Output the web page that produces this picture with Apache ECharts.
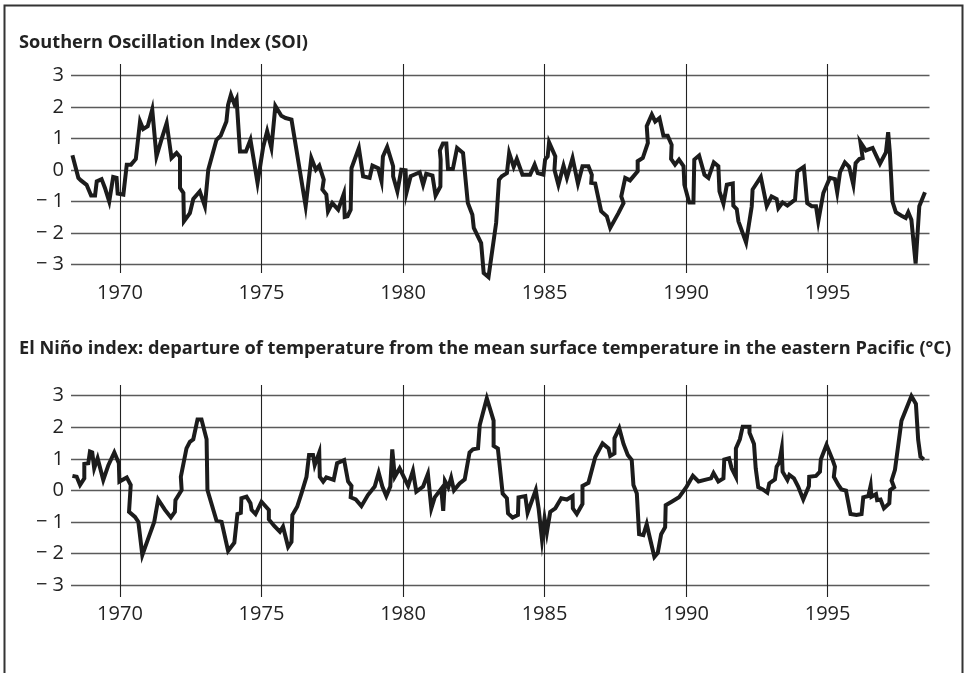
<!DOCTYPE html>
<html>
<head>
<meta charset="utf-8">
<script src="https://cdn.jsdelivr.net/npm/echarts@6/dist/echarts.min.js"></script>
<style>
  html, body { margin: 0; padding: 0; background: #fff; }
  #chart { width: 965px; height: 673px; }
</style>
</head>
<body>
<div id="chart"></div>
<script>
// [year, value]
var soi = [
  [1968.32, 0.47], [1968.53, -0.25], [1968.62, -0.33], [1968.82, -0.47], [1968.98, -0.81], [1969.12, -0.81],
  [1969.18, -0.36], [1969.35, -0.29], [1969.47, -0.57], [1969.62, -1.0], [1969.76, -0.22], [1969.88, -0.25],
  [1969.92, -0.75], [1970.12, -0.78], [1970.24, 0.17], [1970.39, 0.17], [1970.56, 0.35], [1970.71, 1.54],
  [1970.82, 1.30], [1970.98, 1.39], [1971.14, 1.92], [1971.29, 0.43], [1971.47, 0.98], [1971.65, 1.49],
  [1971.82, 0.38], [1972.0, 0.54], [1972.12, 0.41], [1972.12, -0.57], [1972.24, -0.73], [1972.26, -1.63],
  [1972.47, -1.37], [1972.59, -0.92], [1972.82, -0.68], [1973.0, -1.15], [1973.12, 0.01], [1973.41, 0.96],
  [1973.56, 1.09], [1973.76, 1.54], [1973.82, 2.07], [1973.92, 2.39], [1974.04, 2.10], [1974.12, 2.25],
  [1974.24, 0.59], [1974.45, 0.59], [1974.61, 0.96], [1974.86, -0.41], [1975.06, 0.73], [1975.2, 1.23],
  [1975.35, 0.70], [1975.49, 2.03], [1975.7, 1.72], [1975.85, 1.65], [1976.06, 1.60], [1976.56, -1.15],
  [1976.76, 0.38], [1976.92, 0.01], [1977.04, 0.14], [1977.2, -0.31], [1977.15, -0.62], [1977.29, -0.78],
  [1977.35, -1.31], [1977.5, -1.05], [1977.71, -1.26], [1977.91, -0.75], [1977.94, -1.49], [1978.04, -1.47],
  [1978.15, -1.26], [1978.18, 0.06], [1978.44, 0.70], [1978.59, -0.2], [1978.82, -0.25], [1978.92, 0.14],
  [1979.12, 0.06], [1979.24, -0.36], [1979.29, 0.43], [1979.44, 0.73], [1979.65, 0.12], [1979.65, -0.2],
  [1979.8, -0.68], [1979.94, 0.01], [1980.09, -0.01], [1980.12, -0.73], [1980.27, -0.2], [1980.47, -0.12],
  [1980.59, -0.07], [1980.71, -0.47], [1980.82, -0.12], [1981.04, -0.18], [1981.15, -0.81], [1981.32, -0.52],
  [1981.33, 0.33], [1981.3, 0.62], [1981.41, 0.84], [1981.53, 0.84], [1981.59, 0.03], [1981.76, 0.03],
  [1981.91, 0.70], [1982.12, 0.54], [1982.29, -1.05], [1982.45, -1.42], [1982.5, -1.84], [1982.76, -2.32],
  [1982.85, -3.27], [1983.02, -3.40], [1983.29, -1.68], [1983.39, -0.31], [1983.49, -0.2], [1983.67, -0.1],
  [1983.75, 0.54], [1983.91, 0.1], [1984.02, 0.35], [1984.22, -0.15], [1984.49, -0.15], [1984.65, 0.17],
  [1984.76, -0.1], [1984.96, -0.15], [1985.02, 0.33], [1985.11, 0.43], [1985.16, 0.88], [1985.38, 0.43],
  [1985.35, 0.01], [1985.49, -0.47], [1985.67, 0.14], [1985.79, -0.25], [1985.99, 0.38], [1986.18, -0.43],
  [1986.34, 0.12], [1986.55, 0.12], [1986.67, -0.15], [1986.65, -0.41], [1986.79, -0.43], [1987.0, -1.31],
  [1987.2, -1.47], [1987.32, -1.84], [1987.61, -1.37], [1987.79, -1.05], [1987.71, -0.84], [1987.85, -0.25],
  [1988.02, -0.33], [1988.29, -0.04], [1988.29, 0.28], [1988.47, 0.38], [1988.65, 0.86], [1988.61, 1.39],
  [1988.79, 1.76], [1988.91, 1.54], [1989.06, 1.65], [1989.2, 1.09], [1989.35, 1.09], [1989.49, 0.80],
  [1989.47, 0.35], [1989.61, 0.17], [1989.75, 0.33], [1989.91, 0.12], [1989.94, -0.47], [1990.11, -1.03],
  [1990.26, -1.03], [1990.29, 0.33], [1990.46, 0.46], [1990.65, -0.15], [1990.79, -0.25], [1990.98, 0.24],
  [1991.14, 0.12], [1991.18, -0.68], [1991.32, -1.07], [1991.44, -0.47], [1991.65, -0.43], [1991.67, -1.13],
  [1991.79, -1.24], [1991.85, -1.63], [1992.12, -2.30], [1992.32, -1.15], [1992.35, -0.62], [1992.64, -0.22],
  [1992.85, -1.15], [1993.02, -0.84], [1993.2, -0.92], [1993.26, -1.21], [1993.41, -1.03], [1993.58, -1.13],
  [1993.85, -0.94], [1993.93, -0.04], [1994.16, 0.1], [1994.28, -1.05], [1994.44, -1.15], [1994.59, -1.15],
  [1994.67, -1.63], [1994.73, -1.63], [1994.85, -0.73], [1995.08, -0.25], [1995.26, -0.29], [1995.34, -0.71],
  [1995.44, -0.07], [1995.61, 0.24], [1995.76, 0.1], [1995.91, -0.47], [1995.99, 0.22], [1996.12, 0.35],
  [1996.24, 0.38], [1996.16, 0.88], [1996.35, 0.62], [1996.59, 0.70], [1996.85, 0.2], [1997.06, 0.56],
  [1997.14, 1.2], [1997.2, 0.54], [1997.29, -1.0], [1997.41, -1.34], [1997.61, -1.45], [1997.76, -1.52],
  [1997.85, -1.34], [1997.96, -1.58], [1998.11, -2.97], [1998.24, -1.15], [1998.44, -0.71]
];

var nino = [
  [1968.32, 0.46], [1968.47, 0.43], [1968.59, 0.17], [1968.74, 0.38], [1968.74, 0.84], [1968.88, 0.86],
  [1968.94, 1.23], [1969.02, 1.20], [1969.09, 0.70], [1969.21, 1.02], [1969.41, 0.33], [1969.59, 0.80],
  [1969.8, 1.20], [1969.96, 0.86], [1969.98, 0.28], [1970.24, 0.41], [1970.38, 0.17], [1970.32, -0.68],
  [1970.53, -0.84], [1970.65, -1.0], [1970.79, -2.05], [1971.0, -1.52], [1971.21, -1.0], [1971.35, -0.29],
  [1971.59, -0.62], [1971.8, -0.86], [1971.94, -0.68], [1971.96, -0.31], [1972.18, 0.01], [1972.15, 0.43],
  [1972.35, 1.33], [1972.47, 1.54], [1972.59, 1.62], [1972.74, 2.25], [1972.88, 2.25], [1973.06, 1.62],
  [1973.09, 0.01], [1973.41, -0.96], [1973.59, -1.0], [1973.82, -1.92], [1974.04, -1.66], [1974.15, -0.75],
  [1974.27, -0.71], [1974.29, -0.25], [1974.47, -0.2], [1974.61, -0.41], [1974.65, -0.62], [1974.79, -0.75],
  [1975.0, -0.36], [1975.26, -0.62], [1975.26, -0.92], [1975.45, -1.13], [1975.65, -1.31], [1975.76, -1.15],
  [1975.94, -1.79], [1976.06, -1.63], [1976.09, -0.78], [1976.26, -0.52], [1976.41, -0.1], [1976.59, 0.43],
  [1976.68, 1.12], [1976.82, 1.12], [1976.88, 0.80], [1977.04, 1.20], [1977.06, 0.43], [1977.18, 0.28],
  [1977.29, 0.41], [1977.55, 0.33], [1977.67, 0.86], [1977.92, 0.96], [1978.06, 0.28], [1978.18, 0.14],
  [1978.15, -0.22], [1978.33, -0.29], [1978.53, -0.5], [1978.76, -0.15], [1979.0, 0.12], [1979.14, 0.56],
  [1979.27, 0.12], [1979.41, -0.18], [1979.55, 0.12], [1979.62, 1.30], [1979.71, 0.43], [1979.88, 0.70],
  [1980.18, 0.14], [1980.35, 0.62], [1980.47, -0.04], [1980.71, 0.12], [1980.88, 0.52], [1981.0, -0.57],
  [1981.12, -0.22], [1981.35, 0.05], [1981.42, -0.65], [1981.48, 0.3], [1981.6, 0.1], [1981.7, 0.4],
  [1981.8, 0.0], [1982.0, 0.22], [1982.18, 0.35], [1982.35, 1.20], [1982.47, 1.30], [1982.65, 1.33],
  [1982.71, 2.07], [1982.96, 2.92], [1983.2, 2.21], [1983.2, 1.41], [1983.35, 1.33], [1983.52, -0.1],
  [1983.67, -0.25], [1983.71, -0.73], [1983.87, -0.86], [1984.06, -0.78], [1984.08, -0.22], [1984.32, -0.18],
  [1984.4, -0.71], [1984.69, 0.01], [1984.79, -0.57], [1984.91, -1.56], [1985.0, -0.89], [1985.08, -1.34],
  [1985.2, -0.68], [1985.38, -0.57], [1985.59, -0.25], [1985.79, -0.29], [1985.99, -0.18], [1986.0, -0.57],
  [1986.14, -0.75], [1986.34, -0.43], [1986.34, 0.14], [1986.55, 0.24], [1986.79, 1.05], [1987.05, 1.49],
  [1987.26, 1.33], [1987.32, 1.09], [1987.47, 1.17], [1987.47, 1.65], [1987.64, 1.97], [1987.79, 1.47],
  [1987.94, 1.12], [1988.08, 0.96], [1988.14, 0.17], [1988.26, -0.1], [1988.34, -1.39], [1988.49, -1.42],
  [1988.61, -1.07], [1988.69, -1.39], [1988.88, -2.11], [1989.0, -1.98], [1989.12, -1.39], [1989.26, -1.17],
  [1989.28, -0.47], [1989.49, -0.36], [1989.75, -0.22], [1990.02, 0.12], [1990.24, 0.46], [1990.44, 0.28],
  [1990.73, 0.35], [1990.88, 0.38], [1990.97, 0.55], [1991.14, 0.28], [1991.32, 0.38], [1991.35, 0.98],
  [1991.52, 1.02], [1991.61, 0.70], [1991.76, 0.43], [1991.76, 1.33], [1991.9, 1.62], [1992.0, 2.02],
  [1992.24, 2.02], [1992.24, 1.83], [1992.4, 1.47], [1992.46, 0.70], [1992.55, 0.1], [1992.71, 0.03],
  [1992.87, -0.07], [1992.94, 0.22], [1993.14, 0.35], [1993.2, 0.75], [1993.29, 0.88], [1993.38, 1.33],
  [1993.41, 0.59], [1993.58, 0.33], [1993.65, 0.49], [1993.81, 0.38], [1993.96, 0.12], [1994.14, -0.29],
  [1994.34, 0.14], [1994.35, 0.43], [1994.59, 0.46], [1994.73, 0.59], [1994.76, 0.98], [1994.96, 1.44],
  [1995.18, 0.96], [1995.26, 0.75], [1995.22, 0.43], [1995.38, 0.17], [1995.49, 0.03], [1995.65, -0.01],
  [1995.81, -0.75], [1996.02, -0.78], [1996.2, -0.75], [1996.26, -0.22], [1996.44, -0.18], [1996.52, 0.14],
  [1996.55, -0.2], [1996.71, -0.12], [1996.75, -0.31], [1996.87, -0.29], [1996.99, -0.57], [1997.18, -0.41],
  [1997.21, 0.01], [1997.35, 0.1], [1997.26, 0.31], [1997.38, 0.65], [1997.61, 2.21], [1997.96, 2.99],
  [1998.12, 2.74], [1998.2, 1.60], [1998.28, 1.07], [1998.4, 0.98]
];

var yearTicks = [1970, 1975, 1980, 1985, 1990, 1995];
var valueTicks = [-3, -2, -1, 0, 1, 2, 3];

var titles = [
  'Southern Oscillation Index (SOI)',
  'El Niño index: departure of temperature from the mean surface temperature in the eastern Pacific (°C)'
];

var chart = echarts.init(document.getElementById('chart'));

function valueLabel(v) {
  return v < 0 ? '\u2212 ' + (-v) : String(v);
}

function gridLines() {
  var lines = [];
  valueTicks.forEach(function (v) {
    lines.push({ yAxis: v, lineStyle: { type: 'solid', color: '#5a5a5a', width: 1.3 } });
  });
  yearTicks.forEach(function (y) {
    lines.push({ xAxis: y, lineStyle: { type: 'solid', color: '#222', width: 1.1 } });
  });
  return lines;
}

function xAxisFor(idx, margin) {
  return {
    type: 'value',
    gridIndex: idx,
    min: 1968.27,
    max: 1998.6,
    axisLine: { show: false },
    axisTick: { show: false },
    splitLine: { show: false },
    axisLabel: {
      customValues: yearTicks,
      margin: margin,
      color: '#222',
      fontSize: 20,
      fontFamily: 'Open Sans',
      formatter: function (v) { return String(v); }
    }
  };
}

function yAxisFor(idx, min, max) {
  return {
    type: 'value',
    gridIndex: idx,
    min: min,
    max: max,
    axisLine: { show: false },
    axisTick: { show: false },
    splitLine: { show: false },
    axisLabel: {
      customValues: valueTicks,
      margin: 7,
      color: '#222',
      fontSize: 20,
      fontFamily: 'Open Sans',
      formatter: valueLabel
    }
  };
}

function lineSeries(idx, data) {
  return {
    type: 'line',
    xAxisIndex: idx,
    yAxisIndex: idx,
    data: data,
    z: 10,
    clip: false,
    showSymbol: false,
    symbol: 'none',
    silent: true,
    lineStyle: { color: '#1c1c1c', width: 4, join: 'miter' },
    markLine: {
      silent: true,
      symbol: 'none',
      label: { show: false },
      animation: false,
      data: gridLines()
    }
  };
}

var titleStyle = { fontFamily: 'Open Sans', fontWeight: 'bold', fontSize: 18.2, color: '#222' };

chart.setOption({
  backgroundColor: '#fff',
  animation: false,
  title: [
    { text: titles[0], left: 14, top: 29, textStyle: titleStyle },
    { text: titles[1], left: 14, top: 335, textStyle: titleStyle }
  ],
  graphic: [
    {
      type: 'rect',
      shape: { x: 4.5, y: 5.5, width: 958, height: 720 },
      style: { fill: 'none', stroke: '#333', lineWidth: 2 },
      silent: true
    }
  ],
  grid: [
    { left: 71, right: 35.5, top: 64, height: 209 },
    { left: 71, right: 35.5, top: 385, height: 212 }
  ],
  xAxis: [xAxisFor(0, 10), xAxisFor(1, 7)],
  yAxis: [yAxisFor(0, -3.27, 3.365), yAxisFor(1, -3.38, 3.34)],
  series: [lineSeries(0, soi), lineSeries(1, nino)]
});
</script>
</body>
</html>
